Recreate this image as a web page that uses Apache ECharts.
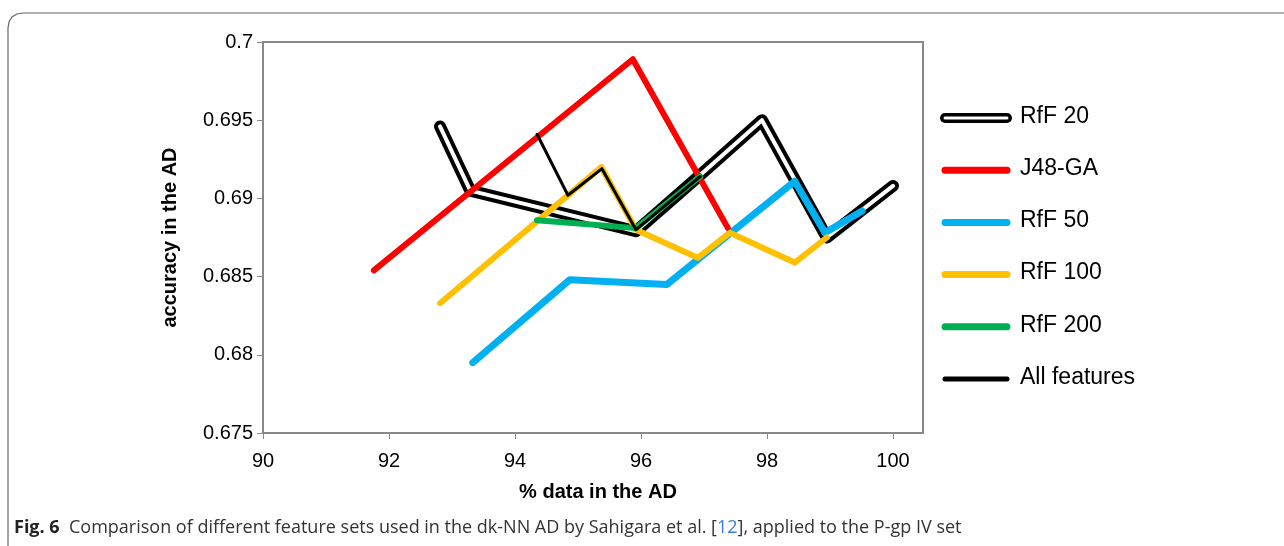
<!DOCTYPE html>
<html>
<head>
<meta charset="utf-8">
<script src="https://cdn.jsdelivr.net/npm/echarts@6/dist/echarts.min.js"></script>
<style>
  html, body { margin: 0; padding: 0; background: #fff; }
  #main { width: 1284px; height: 546px; }
</style>
</head>
<body>
<div id="main"></div>
<script>
// data
var rff20 = [[92.81, 0.6946], [93.29, 0.6905], [95.92, 0.6879], [96.94, 0.6915], [97.92, 0.6950], [98.95, 0.6875], [100.0, 0.6908]];
var j48ga = [[91.76, 0.6854], [95.87, 0.6989], [97.38, 0.6881]];
var rff50 = [[93.33, 0.6795], [94.87, 0.6848], [96.41, 0.6845], [98.44, 0.6911], [98.92, 0.6878], [99.51, 0.6892]];
var rff100 = [[92.81, 0.6833], [95.37, 0.6920], [95.92, 0.6880], [96.90, 0.6862], [97.41, 0.6878], [98.44, 0.6859], [98.95, 0.6875]];
var rff200 = [[94.35, 0.6886], [95.92, 0.6881], [96.94, 0.6914]];
var allFeat = [[94.35, 0.6941], [94.84, 0.6902], [95.38, 0.6919], [95.92, 0.6880], [96.94, 0.6914]];

var legendNames = ['RfF 20', 'J48-GA', 'RfF 50', 'RfF 100', 'RfF 200', 'All features'];
var legendColors = ['#000', '#ff0000', '#00b0f0', '#ffc000', '#00b050', '#000'];

var font = 'Liberation Sans, Arial, sans-serif';
var capFont = 'Open Sans, sans-serif';
var myChart = echarts.init(document.getElementById('main'));

function line(name, data, color, width, z) {
    return {
        name: name, type: 'line', data: data, symbol: 'none', z: z,
        lineStyle: { color: color, width: width, cap: 'round', join: 'round' },
        animation: false
    };
}

var graphics = [
    // outer frame
    { type: 'polyline', shape: { points: [[8, 546], [8, 28], [9, 22], [12, 17], [17, 14], [23, 13], [1284, 13]] },
      style: { stroke: '#666', lineWidth: 1.2, fill: null } },
    // plot box
    { type: 'rect', shape: { x: 263, y: 42, width: 660, height: 391 },
      style: { stroke: '#888', lineWidth: 2, fill: null }, z: 1 },
    { type: 'text', left: 14, top: 519, style: {
        text: '{b|Fig. 6}  Comparison of different feature sets used in the dk-NN AD by Sahigara et al. [{l|12}], applied to the P-gp IV set',
        rich: { b: { fontWeight: 'bold', fontSize: 18, fontFamily: capFont, fill: '#222' },
                l: { fill: '#3a7bd5', fontSize: 18, fontFamily: capFont } },
        fontSize: 18, fontFamily: capFont, fill: '#333' } }
];
legendNames.forEach(function (n, i) {
    var y = 118 + i * 52.2;
    graphics.push({ type: 'line', shape: { x1: 945, y1: y, x2: 1007, y2: y },
        style: { stroke: legendColors[i], lineWidth: i === 0 ? 10 : (i === 5 ? 5 : 7), lineCap: 'round' } });
    if (i === 0) {
        graphics.push({ type: 'line', shape: { x1: 945, y1: y, x2: 1007, y2: y },
            style: { stroke: '#fff', lineWidth: 3, lineCap: 'round' }, z: 10 });
    }
    graphics.push({ type: 'text', left: 1020, top: y - 13, style: {
        text: n, fontSize: 23, fontFamily: font, fill: '#000' } });
});

var option = {
    animation: false,
    grid: { left: 263, top: 42, width: 630, height: 391 },
    xAxis: {
        type: 'value', min: 90, max: 100, interval: 2,
        name: '% data in the AD', nameLocation: 'middle', nameGap: 49,
        nameTextStyle: { fontSize: 20, fontWeight: 'bold', fontFamily: font, color: '#000', padding: [0, 0, 0, 40] },
        axisLine: { show: false },
        axisTick: { show: true, inside: false, length: 6, lineStyle: { color: '#888' } },
        axisLabel: { fontSize: 20, fontFamily: font, color: '#000', margin: 18 },
        splitLine: { show: false }
    },
    yAxis: {
        type: 'value', min: 0.675, max: 0.7, interval: 0.005,
        name: 'accuracy in the AD', nameLocation: 'middle', nameGap: 83, nameRotate: 90,
        nameTextStyle: { fontSize: 20, fontWeight: 'bold', fontFamily: font, color: '#000' },
        axisLine: { show: false },
        axisTick: { show: true, length: 6, lineStyle: { color: '#888' } },
        axisLabel: { fontSize: 20, fontFamily: font, color: '#000', margin: 10 },
        splitLine: { show: false }
    },
    series: [
        line('RfF 20', rff20, '#000', 12, 2),
        line('RfF 20 inner', rff20, '#fff', 4, 3),
        line('J48-GA', j48ga, '#ff0000', 6, 4),
        line('RfF 50', rff50, '#00b0f0', 7, 5),
        line('RfF 100', rff100, '#ffc000', 6, 6),
        line('RfF 200', rff200, '#00b050', 6, 7),
        line('All features', allFeat, '#000', 3, 8)
    ],
    graphic: graphics
};
myChart.setOption(option);
</script>
</body>
</html>
